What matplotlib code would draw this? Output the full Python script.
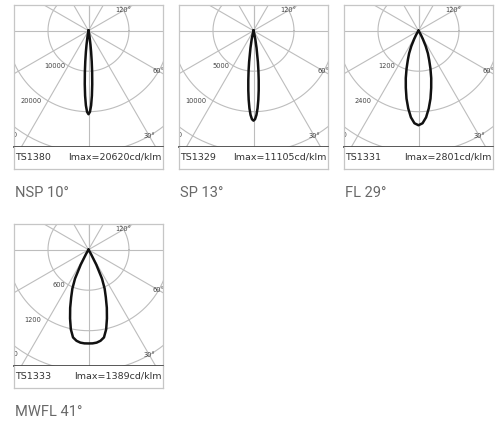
import numpy as np
import matplotlib
matplotlib.use("Agg")
import matplotlib.pyplot as plt

# ---------------- data ----------------
codes = ["TS1380", "TS1329", "TS1331", "TS1333"]
names = ["NSP 10°", "SP 13°", "FL 29°", "MWFL 41°"]
imax = [20620, 11105, 2801, 1389]            # cd/klm
ring_steps = [10000, 5000, 1200, 600]        # intensity ring spacing

# angle (deg from nadir) vs relative intensity, symmetric lobes
nsp_angles = [0, 1, 2, 3, 4, 5, 6, 7, 8, 10, 12, 15, 20]
nsp_rel = [1.0, 0.973, 0.895, 0.779, 0.642, 0.50, 0.369, 0.257, 0.170, 0.063, 0.019, 0.002, 0.0]

sp_angles = [0, 1, 2, 3, 4, 5, 6, 7, 8, 10, 12, 15, 20]
sp_rel = [1.0, 0.984, 0.937, 0.863, 0.769, 0.664, 0.554, 0.448, 0.351, 0.194, 0.094, 0.025, 0.0]

fl_angles = [0, 2.5, 5, 7.5, 10, 12.5, 15, 17.5, 20, 22.5, 25, 27.5, 30, 35, 40]
fl_rel = [1.0, 0.98, 0.92, 0.83, 0.73, 0.62, 0.52, 0.42, 0.33, 0.26, 0.18, 0.10, 0.05, 0.01, 0.0]

mwfl_angles = [0, 2.5, 5, 7.5, 10, 12.5, 15, 17.5, 20, 22.5, 25, 27.5, 30, 32.5, 35]
mwfl_rel = [1.0, 1.0, 0.995, 0.98, 0.95, 0.87, 0.76, 0.65, 0.54, 0.45, 0.34, 0.18, 0.05, 0.01, 0.0]

curve_angles = [nsp_angles, sp_angles, fl_angles, mwfl_angles]
curve_rel = [nsp_rel, sp_rel, fl_rel, mwfl_rel]

grid_angles = [-180, -150, -120, -90, -60, -30, 0, 30, 60, 90, 120, 150, 180]
angle_labels = [("30°", 30, 3), ("60°", 60, 2), ("120°", 120, 1)]  # (text, angle, ring)

# ---------------- layout (pixels) ----------------
W, H = 501, 421
fig = plt.figure(figsize=(W / 100, H / 100), dpi=100)

box_left = [14, 179, 344, 14]
box_top = [5, 5, 5, 224]
box_w = 149
plot_h = 141.5
strip_h = 22.3
center_dy = 25.7          # centre below box top
ring_px = 40.5            # pixels per ring

grid_col = "#bdbdbd"
border_col = "#c6c6c6"
small_font = ["DejaVu Sans"]


def fig_rect(x, y, w, h):
    return [x / W, 1 - (y + h) / H, w / W, h / H]


for i in range(4):
    x0, y0 = box_left[i], box_top[i]
    step = ring_steps[i]
    s = step / ring_px  # intensity units per pixel

    ax = fig.add_axes(fig_rect(x0, y0, box_w, plot_h))
    ax.set_xlim(-box_w / 2 * s, box_w / 2 * s)
    ax.set_ylim(-(plot_h - center_dy) * s, center_dy * s)
    ax.set_xticks([])
    ax.set_yticks([])
    for side in ["top", "left", "right"]:
        ax.spines[side].set_color(border_col)
        ax.spines[side].set_linewidth(0.9)
    ax.spines["bottom"].set_color("#4a4a4a")
    ax.spines["bottom"].set_linewidth(1.3)

    # rings
    t = np.linspace(0, 2 * np.pi, 361)
    for k in range(1, 5):
        r = k * step
        ax.plot(r * np.cos(t), r * np.sin(t), color=grid_col, lw=0.8, zorder=1)
    # radial lines
    R = 6 * step
    for a in grid_angles:
        th = np.deg2rad(a)
        ax.plot([0, R * np.sin(th)], [0, -R * np.cos(th)], color=grid_col, lw=0.8, zorder=1)

    # intensity labels
    for k in range(1, 4):
        r = k * step * 1.04
        th = np.deg2rad(34)
        ax.text(-r * np.sin(th), -r * np.cos(th), f"{k * step}", ha="right", va="center",
                fontsize=4.8, color="#444444", family=small_font, zorder=2, clip_on=True)
    # angle labels
    for txt, a, k in angle_labels:
        th = np.deg2rad(a)
        r = k * step
        ax.text(r * np.sin(th), -r * np.cos(th), txt, ha="center", va="center",
                fontsize=4.8, color="#444444", family=small_font, zorder=2, clip_on=True)

    # intensity curve
    ang = np.array(curve_angles[i], dtype=float)
    rel = np.array(curve_rel[i], dtype=float)
    full_ang = np.concatenate([-ang[::-1], ang[1:]])
    full_I = np.concatenate([rel[::-1], rel[1:]]) * imax[i]
    th = np.deg2rad(full_ang)
    ax.plot(full_I * np.sin(th), -full_I * np.cos(th), color="#111111", lw=1.8,
            solid_joinstyle="round", zorder=3)

    # bottom strip
    sx = fig.add_axes(fig_rect(x0, y0 + plot_h, box_w, strip_h))
    sx.set_xlim(0, box_w)
    sx.set_ylim(0, strip_h)
    sx.set_xticks([])
    sx.set_yticks([])
    sx.spines["top"].set_visible(False)
    for side in ["bottom", "left", "right"]:
        sx.spines[side].set_color(border_col)
        sx.spines[side].set_linewidth(0.9)
    sx.text(1.5, strip_h / 2 + 0.3, codes[i], ha="left", va="center", fontsize=6.8,
            color="#333333", family=small_font)
    sx.text(box_w - 1.5, strip_h / 2 + 0.3, f"Imax={imax[i]}cd/klm", ha="right", va="center",
            fontsize=6.8, color="#333333", family=small_font)

    # name under the box
    fig.text((x0 + 1) / W, 1 - (y0 + plot_h + strip_h + 28) / H, names[i], ha="left",
             va="baseline", fontsize=10.5, color="#686868",
             family=["Roboto", "DejaVu Sans"], fontweight="normal")

fig.savefig("out.png", dpi=100, facecolor="white")
